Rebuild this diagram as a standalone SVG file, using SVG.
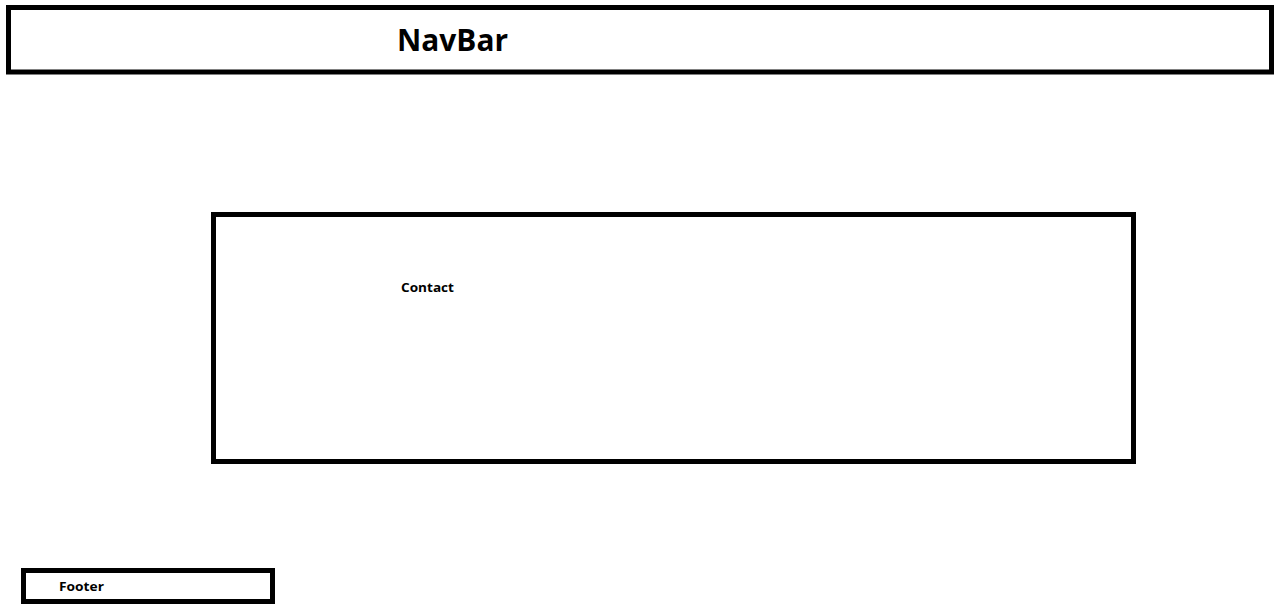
<svg xmlns="http://www.w3.org/2000/svg" width="1283" height="611" viewBox="0 0 1283 611">
<style>
.box{fill:#fff;stroke:#000;stroke-width:5}
.t{font-family:"Open Sans","Liberation Sans",sans-serif;font-weight:bold;fill:#000}
</style>
<rect width="1283" height="611" fill="#fff"/>
<g id="navbar">
<rect class="box" x="8.5" y="7.5" width="1263" height="64.5"/>
<text class="t" x="397" y="51" font-size="31" textLength="111" lengthAdjust="spacingAndGlyphs">NavBar</text>
</g>
<g id="contact">
<rect class="box" x="213.5" y="214.5" width="920" height="247"/>
<text class="t" x="401" y="292" font-size="13" textLength="53" lengthAdjust="spacingAndGlyphs">Contact</text>
</g>
<g id="footer">
<rect class="box" x="23.5" y="570.5" width="249" height="31"/>
<text class="t" x="59" y="591" font-size="13" textLength="45" lengthAdjust="spacingAndGlyphs">Footer</text>
</g>
<g id="connectors"/>
</svg>
